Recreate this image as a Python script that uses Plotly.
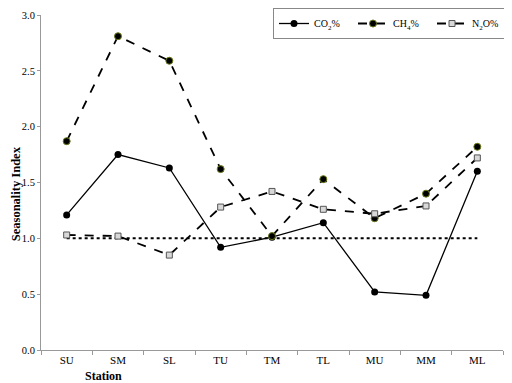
import plotly.graph_objects as go

stations = ["SU", "SM", "SL", "TU", "TM", "TL", "MU", "MM", "ML"]
co2 = [1.21, 1.75, 1.63, 0.92, 1.01, 1.14, 0.52, 0.49, 1.60]
ch4 = [1.87, 2.81, 2.59, 1.62, 1.02, 1.53, 1.18, 1.40, 1.82]
n2o = [1.03, 1.02, 0.85, 1.28, 1.42, 1.26, 1.22, 1.29, 1.72]
baseline = [1.0] * len(stations)

font = "Liberation Serif"

fig = go.Figure()
fig.add_trace(go.Scatter(x=stations, y=baseline, mode="lines",
                         line=dict(color="black", width=2, dash="dot"),
                         showlegend=False, hoverinfo="skip"))
fig.add_trace(go.Scatter(x=stations, y=co2, mode="lines+markers", name="CO<sub>2</sub>%",
                         line=dict(color="black", width=1.3),
                         marker=dict(symbol="circle", size=7, color="black")))
fig.add_trace(go.Scatter(x=stations, y=ch4, mode="lines+markers", name="CH<sub>4</sub>%",
                         line=dict(color="black", width=1.8, dash="dash"),
                         marker=dict(symbol="circle", size=7, color="black",
                                     line=dict(color="#6b7d1a", width=1))))
fig.add_trace(go.Scatter(x=stations, y=n2o, mode="lines+markers", name="N<sub>2</sub>O%",
                         line=dict(color="black", width=1.8, dash="dash"),
                         marker=dict(symbol="square", size=6, color="#d8d8d8",
                                     line=dict(color="#555555", width=1))))

fig.update_layout(
    width=504, height=375,
    margin=dict(l=33, r=9, t=7, b=33, autoexpand=False),
    plot_bgcolor="white", paper_bgcolor="white",
    font=dict(family=font, size=10, color="black"),
    showlegend=True,
    legend=dict(orientation="h", xref="container", yref="container",
                x=1.0, xanchor="right", y=1.0, yanchor="top",
                bordercolor="#888888", borderwidth=1, bgcolor="white",
                font=dict(family=font, size=10), itemwidth=30,
                entrywidth=34, tracegroupgap=0),
    xaxis=dict(type="category", range=[-0.5, 8.5], showline=True, linecolor="#999999",
               ticks="outside", tickson="boundaries", ticklen=4, tickcolor="#999999",
               showgrid=False, automargin=False, tickfont=dict(family=font, size=11)),
    yaxis=dict(range=[0, 3.0], dtick=0.5, tickformat=".1f", showline=True,
               linecolor="#999999", ticks="outside", ticklen=3, tickcolor="#999999",
               showgrid=False, zeroline=False, automargin=False,
               ticklabeloverflow="allow",
               tickfont=dict(family=font, size=10.5)),
    annotations=[
        dict(text="<b>Station</b>", x=0.135, y=-0.05, xref="paper", yref="paper",
             xanchor="center", yanchor="top", showarrow=False,
             font=dict(family=font, size=12)),
        dict(text="<b>Seasonality Index</b>", x=-25.0 / 462, y=0.465, xref="paper", yref="paper",
             xanchor="center", yanchor="middle", textangle=-90, showarrow=False,
             font=dict(family=font, size=12.5)),
    ],
)

fig.write_html("out.html")
